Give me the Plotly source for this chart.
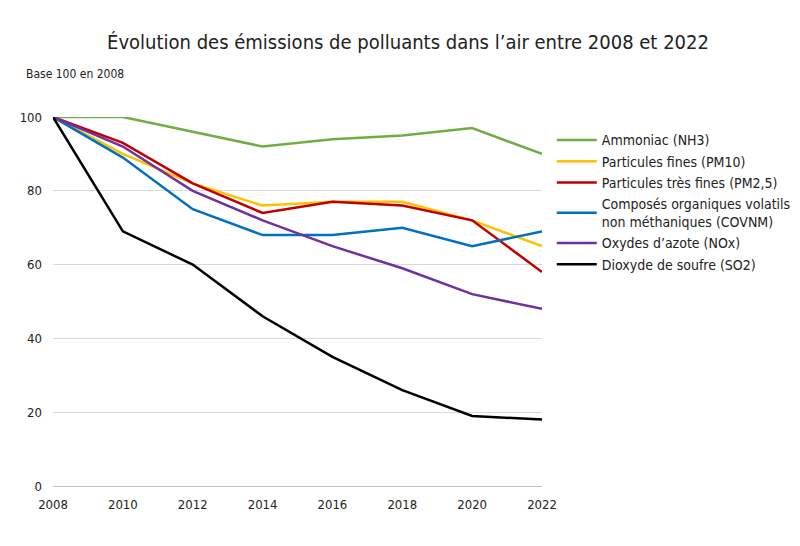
import plotly.graph_objects as go

years = [2008, 2010, 2012, 2014, 2016, 2018, 2020, 2022]
nh3 = [100, 100, 96, 92, 94, 95, 97, 90]
pm10 = [100, 90, 82, 76, 77, 77, 72, 65]
pm25 = [100, 93, 82, 74, 77, 76, 72, 58]
covnm = [100, 89, 75, 68, 68, 70, 65, 69]
nox = [100, 92, 80, 72, 65, 59, 52, 48]
so2 = [100, 69, 60, 46, 35, 26, 19, 18]

series = [
    ("Ammoniac (NH3)", nh3, "#70ad47"),
    ("Particules fines (PM10)", pm10, "#ffc000"),
    ("Particules très fines (PM2,5)", pm25, "#c00000"),
    ("Composés organiques volatils<br>non méthaniques (COVNM)", covnm, "#0070c0"),
    ("Oxydes d’azote (NOx)", nox, "#7030a0"),
    ("Dioxyde de soufre (SO2)", so2, "#000000"),
]

font = "DejaVu Sans Condensed, Liberation Sans Narrow, sans-serif"
fig = go.Figure()
for name, vals, col in series:
    fig.add_trace(go.Scatter(x=years, y=vals, name=name, mode="lines",
                             line=dict(color=col, width=2.5)))

fig.update_layout(
    width=800, height=546,
    paper_bgcolor="white", plot_bgcolor="white",
    font=dict(family=font, size=14, color="#222"),
    title=dict(text="Évolution des émissions de polluants dans l’air entre 2008 et 2022",
               x=0.5, y=0.95, xanchor="center", font=dict(size=20, family=font)),
    margin=dict(l=42, r=258, t=109, b=68),
    legend=dict(x=1.02, y=0.98, xanchor="left", yanchor="top",
                tracegroupgap=32, font=dict(size=14), itemwidth=40),
    xaxis=dict(range=[2008, 2022], tickvals=years, showgrid=False,
               showline=True, linecolor="#bfbfbf", ticks="", tickfont=dict(size=13),
               ticklabelstandoff=6),
    yaxis=dict(range=[0, 100], dtick=20, showgrid=True, gridcolor="#d9d9d9",
               zeroline=False, ticks="", tickfont=dict(size=13),
               ticklabelstandoff=10),
    annotations=[dict(text="Base 100 en 2008", xref="paper", yref="paper",
                      x=-0.06, y=1.14, xanchor="left", showarrow=False,
                      font=dict(size=12))],
)
fig.write_html("out.html")
